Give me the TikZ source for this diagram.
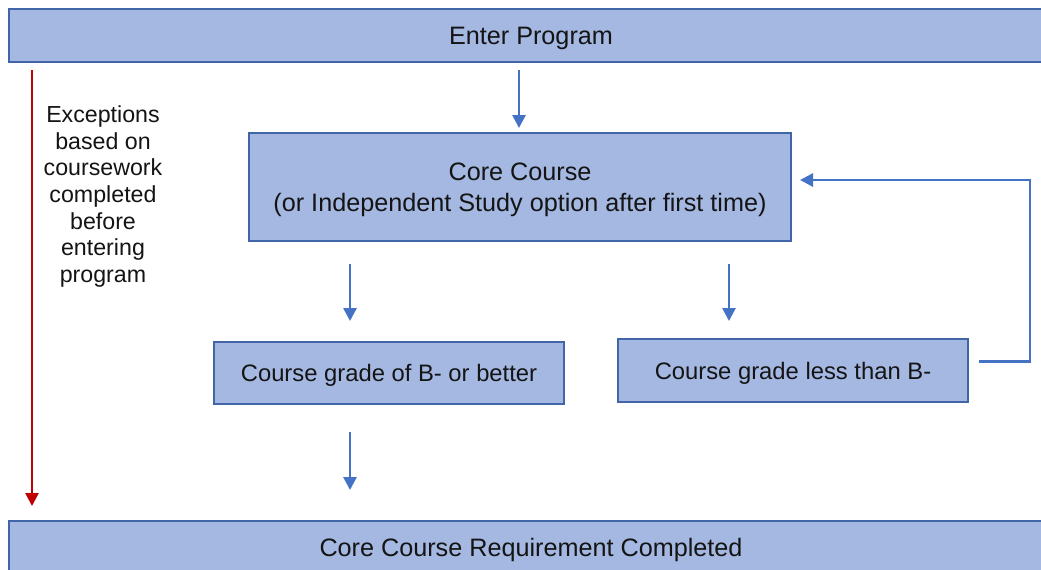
\documentclass[tikz,border=0pt]{standalone}
\usepackage{fontspec}
\setmainfont{Liberation Sans}
\usetikzlibrary{arrows.meta,calc}

\definecolor{boxfill}{RGB}{164,184,226}
\definecolor{boxline}{RGB}{66,101,168}
\definecolor{flowblue}{RGB}{68,114,196}
\definecolor{flowred}{RGB}{192,0,0}

\begin{document}
\begin{tikzpicture}[x=0.5pt, y=-0.5pt, every node/.style={font=\fontsize{12.6}{15.5}\selectfont, text=black!92, text depth=0pt},
	>={Triangle[length=6.5pt,width=6.5pt]},
	box/.style={draw=boxline, fill=boxfill, line width=1pt, inner sep=0pt, align=center},
	flow/.style={->, flowblue, line width=1.35pt}]
	\useasboundingbox (0,0) rectangle (1041,569);
	% full-width bars at top and bottom
	\node[box, minimum width=522pt, minimum height=26.5pt] (enter) at (531,35.5) {Enter Program};
	\node[box, minimum width=522pt, minimum height=26.5pt] (done) at (531,547.5) {Core Course Requirement Completed};
	% course and grade boxes
	\node[box, minimum width=271pt, minimum height=54pt] (core) at (520,187) {Core Course\\(or Independent Study option after first time)};
	\node[box, minimum width=175pt, minimum height=31pt, font=\fontsize{11.9}{14}\selectfont] (good) at (389,373) {Course grade of B- or better};
	\node[box, minimum width=175pt, minimum height=31.5pt, font=\fontsize{11.9}{14}\selectfont] (less) at (793,370.5) {Course grade less than B-};
	\node[align=center, font=\fontsize{11.6}{13.35}\selectfont] (except) at (103,194) {Exceptions\\based on\\coursework\\completed\\before\\entering\\program};
	% arrows
	\draw[flow] ($(enter.south)+(-12,7)$) -- ($(core.north)+(-1,-4)$);
	\draw[flow] ($(core.south)+(-170,22)$) -- ($(good.north)+(-39,-20)$);
	\draw[flow] ($(core.south)+(209,22)$) -- ($(less.north)+(-64,-17)$);
	\draw[flow] ($(good.south)+(-39,27)$) -- ($(done.north)+(-181,-30)$);
	\draw[flow] ($(less.east)+(10,-9)$) -| ($(core.east)+(238,-7)$) -- ($(core.east)+(8,-7)$);
	\draw[->, flowred, line width=1.3pt] ($(enter.south west)+(24,7)$) -- ($(done.north west)+(24,-14)$);
\end{tikzpicture}
\end{document}
